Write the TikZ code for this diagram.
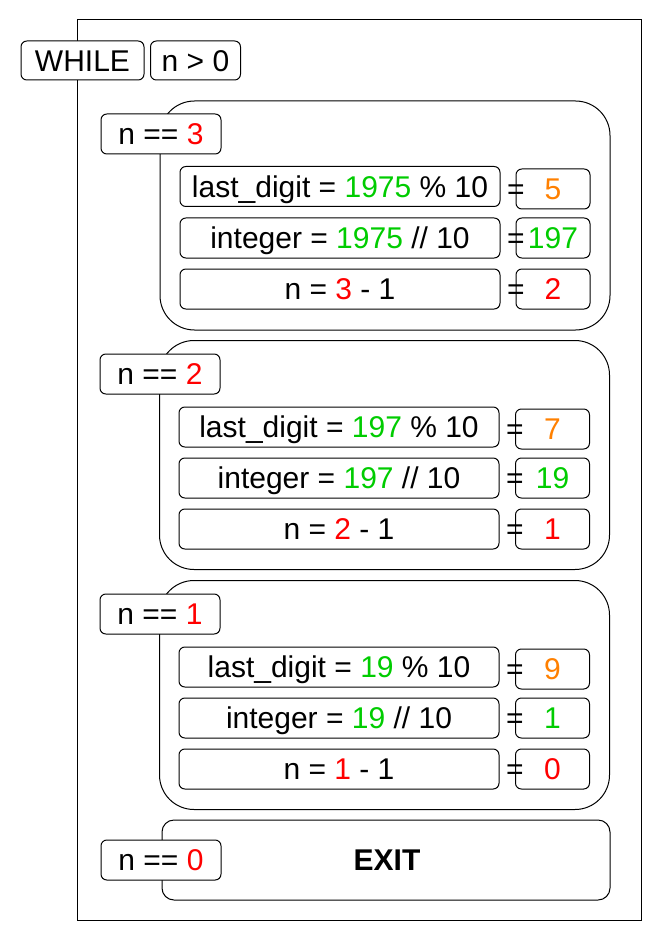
\documentclass[tikz,border=0pt]{standalone}
\usepackage{fontspec}
\setmainfont{Liberation Sans}
\definecolor{cgreen}{RGB}{0,204,0}
\definecolor{corange}{RGB}{255,128,0}
\definecolor{cred}{RGB}{255,0,0}
\newcommand\fsz{\fontsize{30pt}{36pt}\selectfont}
\tikzset{
  box/.style={draw, fill=white, line width=1pt, rounded corners=5.85pt, inner sep=0pt,
    text height=21.5pt, text depth=0pt, font=\fsz},
  lbox/.style={box, minimum width=320pt, minimum height=40pt},
  rbox/.style={box, minimum width=74pt, minimum height=40pt},
  cbox/.style={box, minimum width=120pt, minimum height=40pt},
  blk/.style={draw, fill=white, line width=1pt, rounded corners=34.5pt, minimum width=450pt, minimum height=229pt, inner sep=0pt},
  eqs/.style={inner sep=0pt, text height=21.5pt, text depth=0pt, font=\fsz},
}
\begin{document}
\begin{tikzpicture}[x=1pt,y=-1pt]
\useasboundingbox (0,0) rectangle (661,941);
\fill[white] (0,0) rectangle (661,941);
% outer loop frame
\node[draw, line width=1pt, minimum width=564pt, minimum height=900pt, inner sep=0pt] (outer) at (359,470) {};
\node[box, minimum width=123pt, minimum height=39pt] (while) at (82.5,60.5) {WHILE};
\node[box, minimum width=90pt, minimum height=39pt] (cond) at (195.5,60.5) {n > 0};

% block 1
\node[blk] (b1) at (385,215.5) {};
\node[cbox] (c1) at (161,134) {n == \textcolor{cred}{3}};
\node[lbox] (l11) at (340,186.5) {last\_digit = \textcolor{cgreen}{1975} \% 10};
\node[lbox] (l12) at (340,238) {integer = \textcolor{cgreen}{1975} // 10};
\node[lbox] (l13) at (340,289) {n = \textcolor{cred}{3} - 1};
\node[rbox] (r11) at (553,189) {\textcolor{corange}{5}};
\node[rbox] (r12) at (553,238) {\textcolor{cgreen}{197}};
\node[rbox] (r13) at (553,289) {\textcolor{cred}{2}};
\node[eqs] (e11) at (516,189) {=};
\node[eqs] (e12) at (516,238) {=};
\node[eqs] (e13) at (516,289) {=};

% block 2
\node[blk] (b2) at (384.5,455) {};
\node[cbox] (c2) at (160,374) {n == \textcolor{cred}{2}};
\node[lbox] (l21) at (339,427) {last\_digit = \textcolor{cgreen}{197} \% 10};
\node[lbox] (l22) at (339,478) {integer = \textcolor{cgreen}{197} // 10};
\node[lbox] (l23) at (339,529) {n = \textcolor{cred}{2} - 1};
\node[rbox] (r21) at (552.5,429) {\textcolor{corange}{7}};
\node[rbox] (r22) at (552.5,478) {\textcolor{cgreen}{19}};
\node[rbox] (r23) at (552.5,529) {\textcolor{cred}{1}};
\node[eqs] (e21) at (515,429) {=};
\node[eqs] (e22) at (515,478) {=};
\node[eqs] (e23) at (515,529) {=};

% block 3
\node[blk] (b3) at (384.5,695) {};
\node[cbox] (c3) at (160,614) {n == \textcolor{cred}{1}};
\node[lbox] (l31) at (339,667) {last\_digit = \textcolor{cgreen}{19} \% 10};
\node[lbox] (l32) at (339,718) {integer = \textcolor{cgreen}{19} // 10};
\node[lbox] (l33) at (339,769) {n = \textcolor{cred}{1} - 1};
\node[rbox] (r31) at (552.5,669) {\textcolor{corange}{9}};
\node[rbox] (r32) at (552.5,718) {\textcolor{cgreen}{1}};
\node[rbox] (r33) at (552.5,769) {\textcolor{cred}{0}};
\node[eqs] (e31) at (515,669) {=};
\node[eqs] (e32) at (515,718) {=};
\node[eqs] (e33) at (515,769) {=};

% exit block
\node[draw, fill=white, line width=1pt, rounded corners=12pt, minimum width=448pt, minimum height=80pt, inner sep=0pt] (b4) at (386,860) {};
\node[eqs, font=\fsz\bfseries] (exit) at (387,860) {EXIT};
\node[cbox] (c4) at (161,860) {n == \textcolor{cred}{0}};
\end{tikzpicture}
\end{document}
